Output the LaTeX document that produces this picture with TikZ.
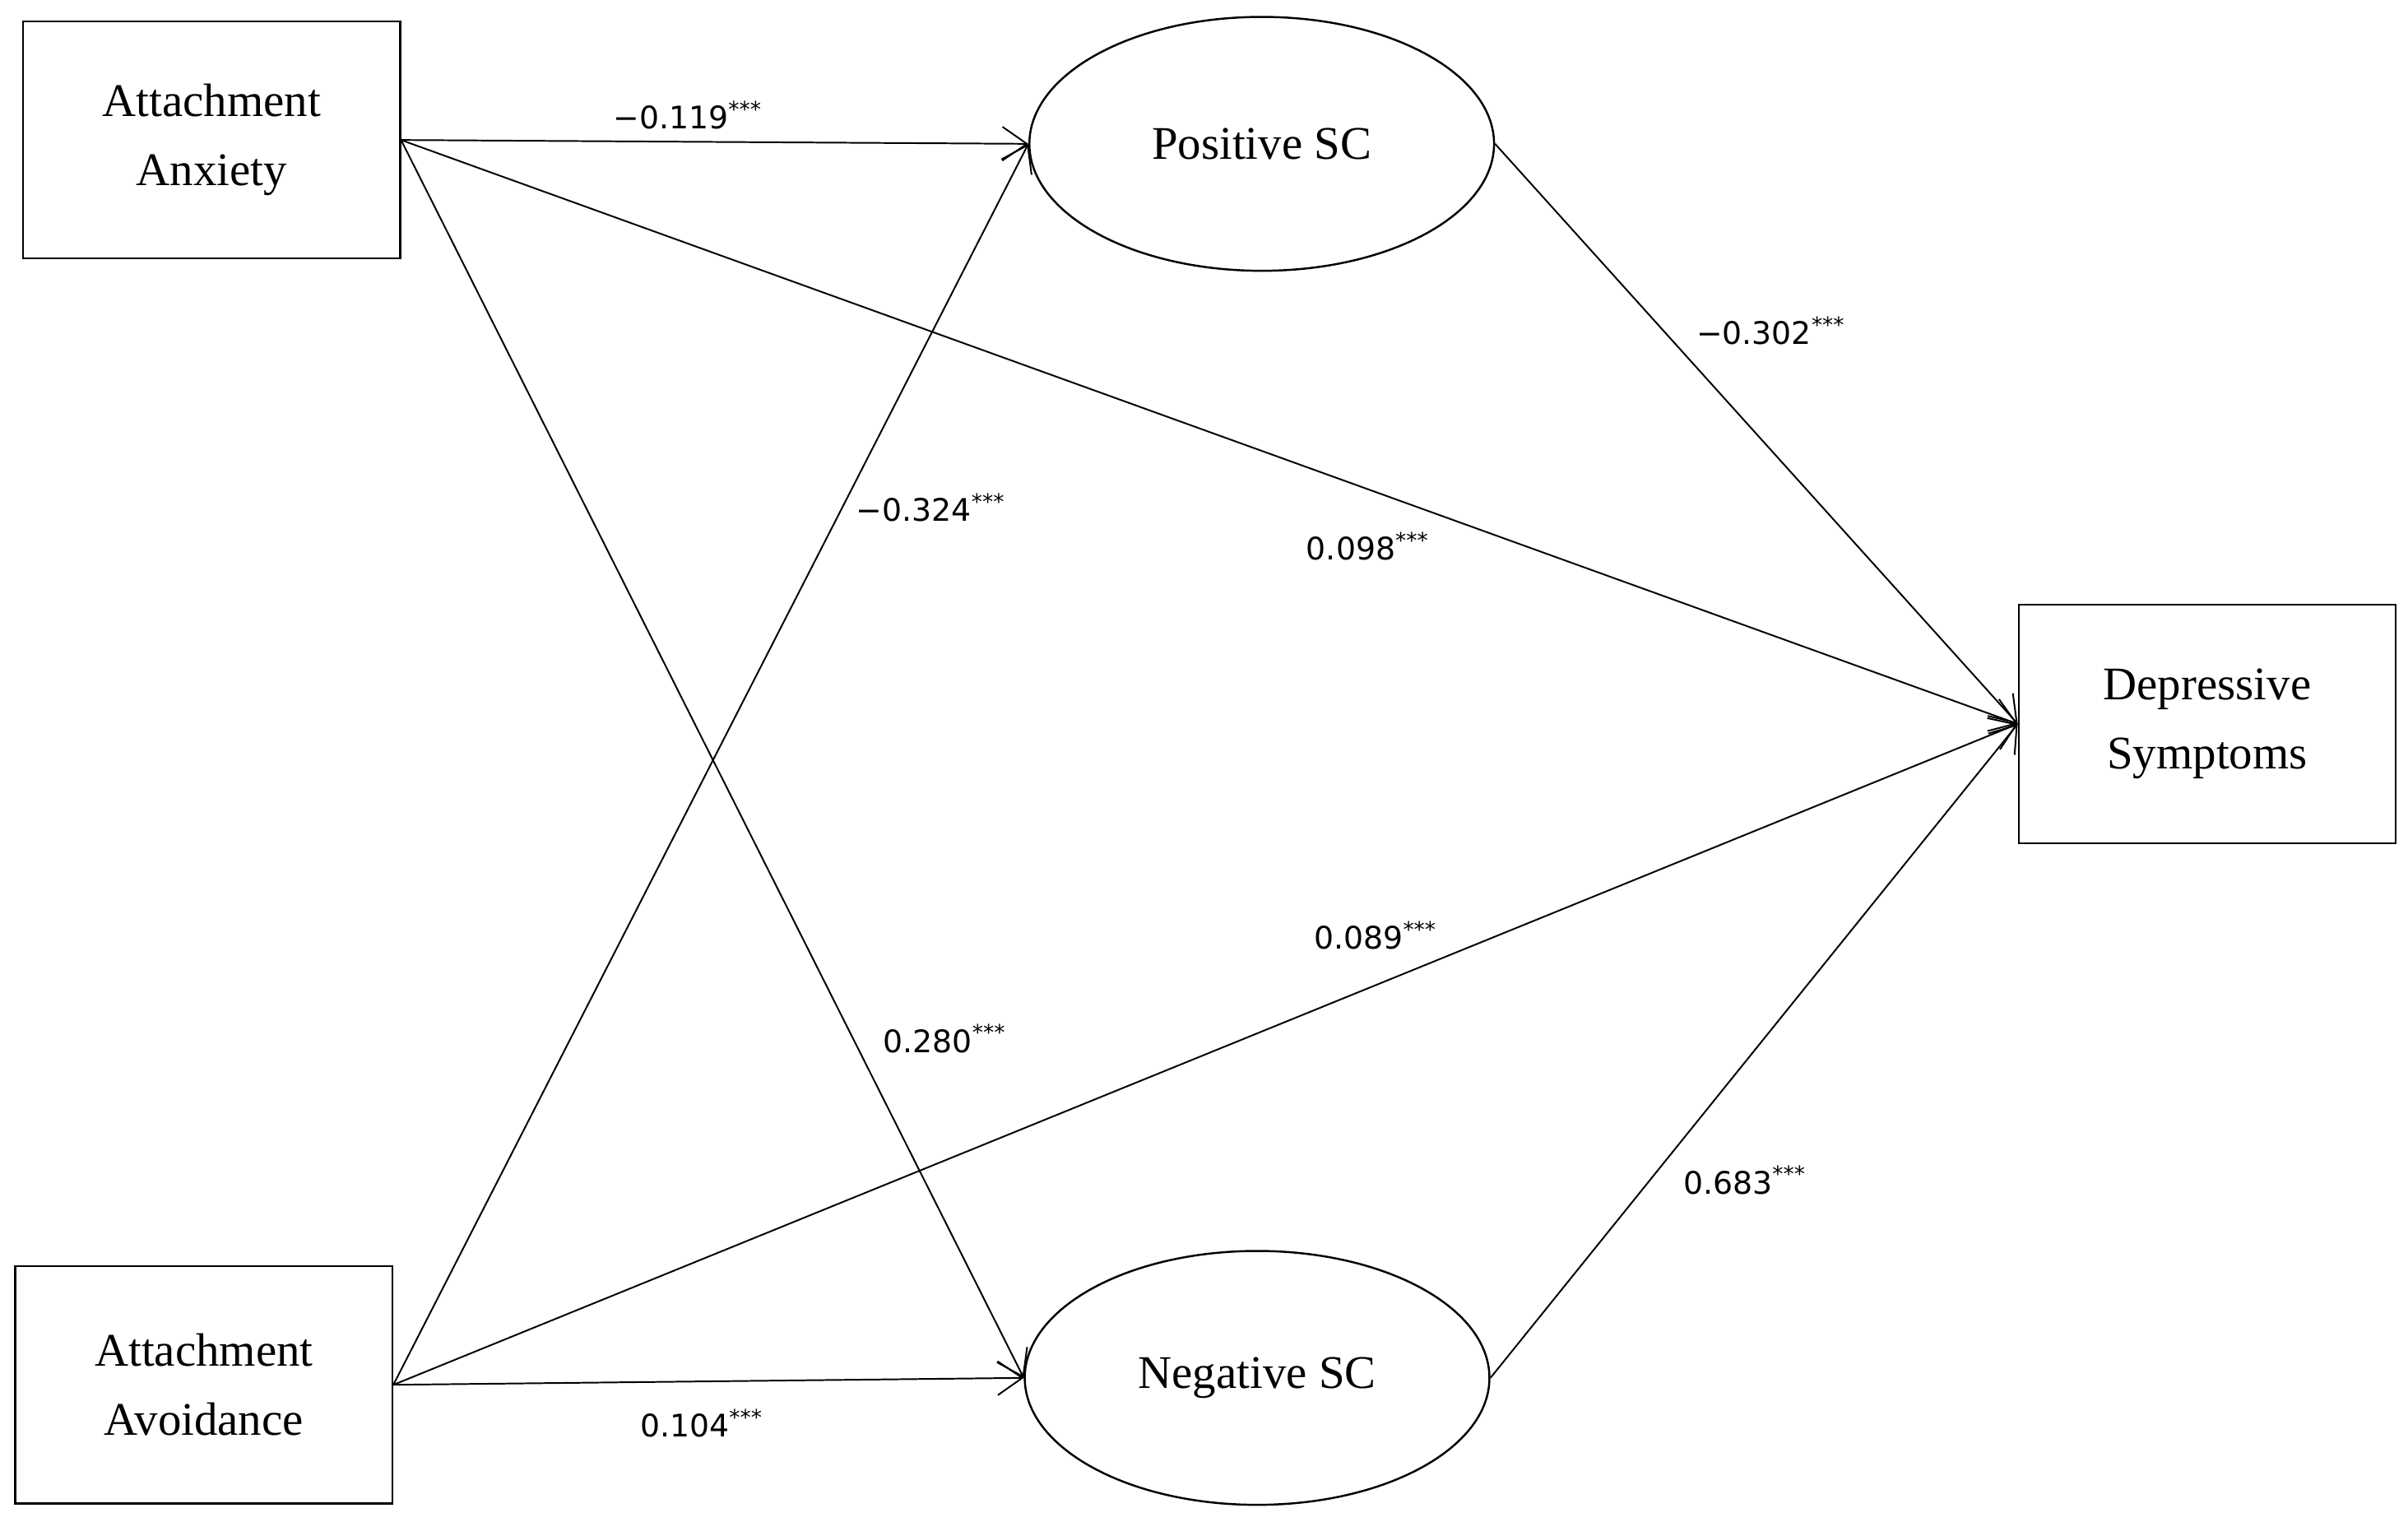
\documentclass[tikz,border=0pt]{standalone}
\usepackage{fontspec}
\setmainfont{Liberation Serif}
\newfontfamily\coeffont{DejaVu Sans}
\usepackage{tikz}
\usetikzlibrary{arrows.meta,shapes.geometric}

\begin{document}
\begin{tikzpicture}[
  varbox/.style={draw, line width=0.75pt, minimum width=4.9cm, minimum height=3.08cm, align=center, font=\fontsize{17.3}{25.6}\selectfont},
  latent/.style={draw, ellipse, line width=0.75pt, minimum width=6.04cm, minimum height=3.3cm, inner sep=0pt, font=\fontsize{17.3}{25.6}\selectfont},
  path/.style={line width=0.6pt, -{Straight Barb[length=3.2mm,width=4.4mm]}},
  coef/.style={font=\coeffont\fontsize{11.5}{13}\selectfont, inner sep=1pt}
]
%\draw[step=1cm,gray,very thin] (0,0) grid (31,19);
\useasboundingbox (0,0) rectangle (31.30,19.78);

\node[varbox] (anx) at (2.75,17.96) {Attachment\\Anxiety};

\node[varbox] (avo) at (2.65,1.78) {Attachment\\Avoidance};

\node[latent] (pos) at (16.40,17.91) {Positive SC};

\node[latent] (neg) at (16.34,1.87) {Negative SC};

\node[varbox, minimum height=3.1cm] (dep) at (28.69,10.37) {Depressive\\Symptoms};

\draw[path] (anx.east) -- (pos.west);
\draw[path] (anx.east) -- (dep.west);
\draw[path] (anx.east) -- (neg.west);

\draw[path] (avo.east) -- (pos.west);
\draw[path] (avo.east) -- (neg.west);
\draw[path] (avo.east) -- (dep.west);

\draw[path] (pos.east) -- (dep.west);
\draw[path] (neg.east) -- (dep.west);

\node[coef] (c119) at (8.94,18.28) {−0.119\textsuperscript{***}};
\node[coef] (c302) at (23.02,15.48) {−0.302\textsuperscript{***}};
\node[coef] (c324) at (12.10,13.18) {−0.324\textsuperscript{***}};
\node[coef] (c098) at (17.78,12.68) {0.098\textsuperscript{***}};
\node[coef] (c089) at (17.88,7.62) {0.089\textsuperscript{***}};
\node[coef] (c280) at (12.28,6.28) {0.280\textsuperscript{***}};
\node[coef] (c683) at (22.68,4.44) {0.683\textsuperscript{***}};
\node[coef] (c104) at (9.12,1.28) {0.104\textsuperscript{***}};

\end{tikzpicture}
\end{document}
